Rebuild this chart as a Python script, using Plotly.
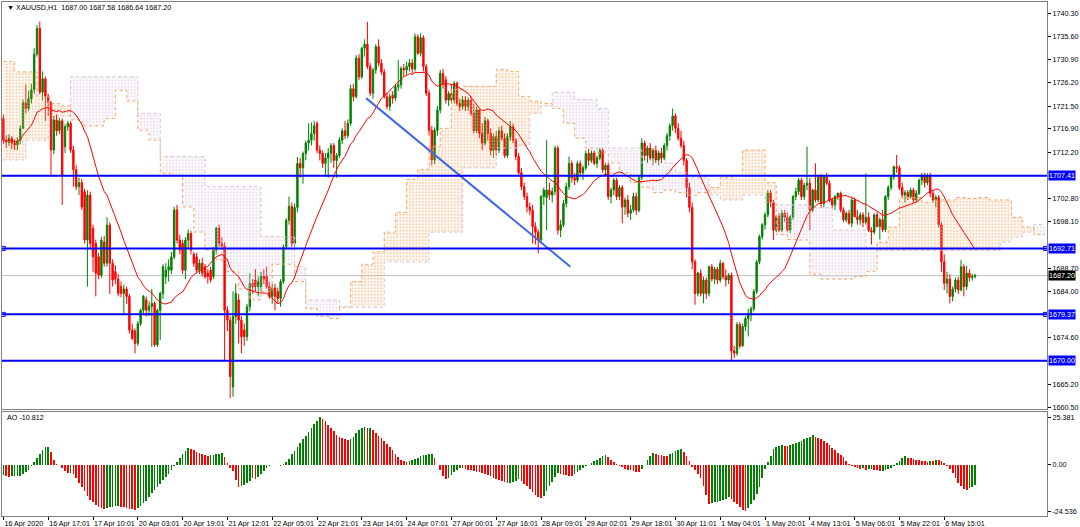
import numpy as np
import pandas as pd
import plotly.graph_objects as go

# ---------------- data ----------------
opens = [1719.0,1714.6,1714.2,1715.0,1714.0,1713.6,1714.5,1717.0,1722.2,1721.0,1723.0,1724.8,1732.0,1737.2,1724.3,1727.0,1723.5,1722.2,1712.6,1718.7,
1716.5,1718.5,1713.3,1717.3,1718.0,1712.6,1708.6,1705.2,1706.0,1704.2,1694.4,1703.5,1696.8,1693.7,1691.0,1687.3,1694.0,1689.7,1697.4,1689.7,
1688.0,1686.5,1685.0,1683.6,1684.5,1683.0,1676.2,1676.0,1673.5,1677.5,1680.2,1682.3,1680.2,1681.0,1681.6,1673.2,1680.2,1683.6,1687.0,1688.3,
1688.3,1691.0,1700.5,1694.4,1693.7,1688.3,1694.4,1695.7,1691.5,1691.0,1688.3,1689.7,1689.0,1687.7,1688.3,1687.0,1692.4,1696.8,1693.7,1693.2,
1680.2,1678.2,1664.7,1678.9,1682.3,1678.2,1676.2,1674.85,1680.9,1685.6,1686.3,1685.0,1685.0,1687.0,1687.0,1685.0,1683.0,1684.7,1684.0,1682.6,
1686.0,1693.0,1698.4,1701.2,1693.7,1701.0,1709.9,1709.0,1711.9,1714.0,1714.6,1715.9,1718.0,1712.6,1711.9,1709.9,1711.0,1712.0,1713.5,1710.5,
1711.5,1714.6,1716.5,1715.5,1718.0,1725.0,1723.4,1731.2,1727.4,1733.2,1734.0,1729.5,1724.1,1728.8,1733.5,1730.2,1728.4,1723.4,1721.4,1723.7,
1723.1,1725.4,1725.8,1729.1,1728.8,1729.5,1730.2,1729.0,1735.5,1732.2,1735.3,1729.5,1724.1,1716.6,1710.6,1716.6,1720.7,1728.1,1726.8,1722.7,
1724.0,1722.7,1726.1,1722.0,1721.4,1722.7,1721.4,1722.7,1720.0,1716.5,1720.7,1716.0,1714.0,1718.5,1716.0,1712.5,1715.3,1712.6,1716.5,1715.0,
1711.5,1715.3,1717.3,1714.6,1711.3,1708.0,1705.2,1703.2,1701.1,1700.4,1697.1,1696.0,1694.4,1703.2,1703.0,1704.5,1703.5,1704.2,1713.0,1696.4,
1697.5,1701.8,1705.2,1709.9,1707.0,1706.5,1709.9,1708.0,1709.0,1711.9,1710.5,1712.0,1709.9,1711.0,1712.6,1708.6,1709.5,1703.2,1704.5,1706.5,
1703.2,1705.0,1701.1,1702.5,1699.8,1700.5,1703.2,1700.4,1707.0,1714.0,1711.5,1713.0,1711.0,1712.5,1710.6,1712.0,1711.0,1713.5,1715.5,1717.5,
1719.5,1717.0,1715.0,1713.5,1710.5,1705.0,1701.0,1690.0,1683.6,1687.7,1683.6,1686.3,1683.6,1689.0,1686.5,1688.5,1686.3,1689.7,1687.0,1686.3,
1687.3,1672.0,1671.5,1677.3,1673.0,1676.9,1678.5,1679.5,1680.5,1684.0,1690.0,1695.1,1697.5,1699.5,1703.85,1702.0,1696.4,1699.1,1696.4,1699.8,
1699.0,1696.4,1699.1,1703.2,1704.2,1706.5,1703.2,1705.5,1705.9,1700.5,1704.5,1702.5,1707.2,1701.8,1707.2,1705.9,1702.5,1701.5,1703.2,1703.85,
1700.5,1698.5,1699.8,1697.8,1702.5,1699.1,1698.5,1699.5,1698.0,1699.0,1696.4,1696.0,1699.5,1697.1,1698.5,1696.5,1703.2,1705.0,1707.2,1709.2,
1709.0,1705.0,1703.5,1704.0,1703.2,1704.5,1702.5,1703.85,1706.5,1707.5,1706.0,1707.5,1703.85,1702.5,1703.0,1697.5,1690.0,1685.65,1686.5,1683.0,
1684.5,1686.3,1684.3,1689.0,1685.0,1687.7,1686.8,1687.00]

highs = [1719.8,1715.6,1715.8,1715.4,1714.8,1715.2,1717.6,1722.8,1725.8,1724.5,1726.0,1733.2,1737.9,1738.6,1728.5,1727.5,1724.0,1722.5,1719.5,1719.8,
1719.3,1719.0,1717.8,1718.5,1718.4,1713.5,1709.5,1707.0,1706.8,1704.8,1704.5,1704.2,1697.5,1694.5,1691.8,1695.0,1695.2,1699.0,1698.0,1690.5,
1689.3,1687.5,1686.0,1685.4,1685.0,1683.5,1677.5,1676.5,1678.0,1680.5,1683.3,1683.0,1682.0,1684.5,1682.0,1680.5,1684.0,1689.5,1689.7,1690.5,
1692.0,1701.1,1701.5,1695.5,1694.5,1695.0,1696.5,1696.2,1692.0,1691.8,1690.5,1690.8,1689.6,1688.5,1689.0,1693.0,1697.1,1697.5,1695.0,1694.0,
1681.0,1679.0,1684.0,1685.6,1683.5,1679.0,1677.5,1681.5,1687.7,1686.5,1688.5,1687.0,1688.0,1688.5,1689.0,1686.0,1685.5,1685.5,1684.8,1686.5,
1693.5,1698.8,1703.2,1702.0,1701.8,1711.2,1711.0,1712.3,1714.5,1718.0,1718.2,1718.5,1718.4,1713.5,1712.5,1712.0,1713.0,1714.0,1714.0,1712.0,
1715.2,1717.0,1718.5,1718.8,1725.8,1726.0,1731.8,1732.0,1733.5,1735.0,1738.5,1730.2,1729.2,1734.0,1735.0,1731.0,1729.0,1724.2,1724.0,1724.5,
1726.0,1730.8,1729.5,1730.0,1730.5,1731.0,1731.0,1736.2,1736.0,1736.2,1735.8,1730.0,1724.8,1717.5,1717.2,1721.5,1728.8,1729.0,1727.5,1724.5,
1726.0,1726.5,1726.5,1723.0,1723.5,1723.5,1723.2,1723.5,1722.0,1721.4,1721.0,1718.0,1719.3,1719.0,1717.0,1716.0,1716.5,1717.3,1717.5,1716.0,
1716.0,1718.5,1718.0,1715.0,1712.0,1709.0,1706.0,1704.0,1702.0,1701.5,1698.0,1696.5,1703.5,1705.0,1714.6,1706.0,1705.0,1713.5,1713.5,1698.5,
1702.5,1706.0,1711.3,1710.5,1708.0,1710.5,1710.5,1709.5,1712.5,1712.8,1712.5,1712.5,1711.5,1713.0,1713.0,1710.0,1710.0,1705.0,1707.0,1707.0,
1705.5,1705.5,1703.0,1703.5,1701.5,1704.0,1704.0,1707.5,1715.0,1714.5,1713.5,1714.0,1713.0,1713.5,1712.5,1713.0,1714.0,1716.0,1718.0,1721.0,
1720.0,1718.0,1716.5,1714.5,1711.0,1706.0,1702.0,1690.5,1688.0,1688.5,1687.0,1686.8,1689.2,1689.5,1689.0,1689.0,1690.4,1690.0,1688.5,1687.7,
1687.8,1673.0,1677.8,1677.8,1677.5,1679.0,1680.5,1681.0,1684.5,1690.4,1695.5,1697.8,1700.0,1704.5,1704.5,1702.5,1699.5,1699.8,1700.5,1700.5,
1700.0,1699.5,1703.5,1705.0,1707.0,1707.0,1706.0,1713.3,1707.0,1704.8,1709.9,1707.5,1707.8,1707.5,1708.0,1706.5,1703.0,1703.5,1704.0,1704.2,
1701.0,1700.2,1700.5,1703.0,1703.0,1700.5,1700.0,1700.0,1707.9,1700.0,1697.0,1699.8,1700.0,1699.0,1700.5,1703.5,1705.5,1707.5,1709.5,1711.6,
1709.5,1706.0,1704.5,1704.5,1705.0,1705.0,1704.5,1706.8,1708.0,1708.0,1707.9,1708.0,1704.5,1703.5,1703.5,1698.0,1691.5,1688.0,1687.5,1685.0,
1686.8,1687.0,1690.4,1689.5,1689.2,1688.5,1687.6,1687.58]

lows = [1713.8,1713.0,1713.4,1712.8,1712.6,1712.6,1713.8,1716.8,1720.0,1720.5,1722.0,1724.0,1731.5,1723.8,1722.6,1718.5,1719.5,1707.5,1711.8,1715.5,
1715.8,1701.5,1712.0,1716.5,1712.0,1705.2,1704.5,1703.5,1700.5,1693.7,1685.0,1692.5,1688.0,1683.0,1686.5,1686.8,1689.0,1689.0,1683.5,1685.0,
1685.5,1683.0,1682.8,1679.6,1681.5,1675.5,1674.2,1671.5,1673.0,1677.0,1679.5,1678.9,1679.0,1672.8,1672.8,1672.8,1674.2,1682.5,1685.5,1686.0,
1687.5,1690.5,1693.7,1691.5,1687.5,1686.5,1692.5,1691.5,1689.0,1687.8,1687.5,1687.0,1686.5,1685.6,1685.8,1686.5,1691.5,1693.0,1692.5,1670.1,
1676.0,1662.4,1662.7,1677.5,1673.5,1671.5,1673.0,1674.0,1680.0,1683.5,1684.0,1683.0,1684.0,1685.5,1684.5,1682.5,1681.5,1680.2,1681.5,1680.9,
1685.5,1692.5,1697.5,1693.0,1693.0,1700.0,1707.0,1705.8,1710.5,1712.5,1713.5,1714.5,1712.0,1710.5,1709.0,1707.5,1707.0,1710.0,1709.0,1707.0,
1711.0,1713.8,1714.8,1715.0,1717.5,1722.5,1723.0,1726.8,1727.0,1731.5,1729.0,1723.5,1723.0,1728.0,1729.5,1727.8,1723.0,1720.8,1720.5,1722.0,
1722.5,1724.5,1725.0,1727.5,1727.8,1728.5,1728.0,1728.5,1731.8,1731.5,1728.5,1723.5,1715.5,1709.5,1709.8,1715.5,1720.0,1725.0,1722.0,1721.5,
1722.0,1722.0,1721.5,1720.5,1720.8,1720.5,1720.5,1719.5,1716.0,1716.0,1715.0,1712.6,1713.5,1714.5,1711.5,1711.0,1711.5,1712.0,1714.5,1711.0,
1711.0,1714.5,1714.0,1710.5,1707.5,1704.5,1702.5,1700.0,1699.5,1693.7,1693.5,1691.7,1694.0,1701.5,1696.4,1702.5,1702.0,1703.5,1695.5,1695.0,
1697.0,1701.0,1704.5,1706.0,1705.5,1706.0,1707.5,1706.5,1708.5,1709.5,1710.0,1709.5,1709.0,1710.5,1708.0,1707.5,1702.5,1701.8,1703.5,1702.5,
1702.5,1697.8,1699.5,1699.0,1698.5,1700.0,1699.5,1700.0,1706.5,1710.5,1710.0,1710.5,1709.5,1710.0,1709.5,1710.0,1710.5,1712.5,1714.5,1716.5,
1716.0,1714.5,1713.0,1709.5,1703.0,1700.0,1688.5,1681.3,1683.0,1683.0,1681.6,1682.5,1683.0,1686.0,1685.5,1685.5,1685.8,1686.5,1685.0,1685.5,
1670.0,1670.5,1671.0,1672.5,1672.8,1676.0,1674.9,1678.0,1680.0,1683.5,1689.5,1694.5,1696.5,1699.0,1701.0,1694.4,1696.0,1696.0,1696.0,1698.0,
1696.0,1695.8,1698.5,1702.5,1703.5,1702.5,1702.5,1704.5,1696.4,1700.0,1702.0,1702.0,1701.0,1701.0,1705.5,1702.0,1700.8,1700.5,1702.5,1700.0,
1698.0,1698.0,1697.5,1697.0,1699.0,1697.5,1697.5,1697.0,1697.5,1696.0,1693.5,1695.5,1697.0,1694.5,1696.0,1696.0,1702.5,1704.5,1706.5,1708.0,
1704.5,1703.0,1702.0,1702.5,1702.8,1702.0,1702.0,1703.5,1705.5,1705.0,1705.5,1703.0,1702.0,1701.0,1697.0,1688.0,1684.3,1683.6,1681.6,1682.0,
1683.8,1683.5,1684.0,1683.0,1684.3,1686.0,1686.2,1686.64]

closes = [1714.6,1714.2,1715.0,1714.0,1713.6,1714.5,1717.0,1722.2,1721.0,1723.0,1724.8,1732.0,1737.2,1724.3,1727.0,1723.5,1722.2,1712.6,1718.7,1716.5,
1718.5,1707.5,1717.3,1718.0,1712.6,1708.6,1705.2,1706.0,1701.1,1694.4,1703.5,1693.7,1691.0,1687.7,1687.3,1694.4,1689.7,1697.4,1689.7,1686.3,
1686.5,1683.6,1683.6,1684.5,1683.0,1676.2,1674.5,1673.5,1677.5,1680.2,1683.0,1680.2,1681.0,1681.6,1673.2,1680.2,1683.6,1689.0,1688.3,1689.0,
1691.0,1700.5,1694.4,1692.4,1688.3,1694.4,1695.7,1692.4,1689.7,1688.3,1689.7,1687.7,1687.0,1687.0,1686.3,1692.4,1696.8,1693.7,1693.2,1680.2,
1678.2,1666.8,1678.9,1683.6,1678.2,1674.85,1674.85,1680.9,1685.6,1685.0,1685.0,1686.0,1687.0,1686.5,1685.0,1683.0,1684.7,1683.0,1682.6,1686.0,
1693.0,1698.4,1701.2,1693.7,1701.0,1709.9,1709.0,1711.9,1714.0,1714.6,1715.9,1717.5,1712.6,1711.9,1709.9,1711.0,1712.0,1713.5,1710.5,1711.5,
1714.6,1716.5,1715.5,1718.0,1725.0,1723.4,1731.2,1727.4,1733.2,1734.0,1729.5,1724.1,1728.8,1733.5,1730.2,1728.4,1723.4,1721.4,1723.4,1723.1,
1725.4,1725.8,1729.1,1728.8,1729.5,1730.2,1729.0,1735.5,1732.2,1735.3,1729.5,1724.1,1716.6,1710.6,1716.6,1720.7,1728.1,1726.0,1722.7,1724.0,
1722.7,1726.1,1722.0,1721.4,1722.7,1721.4,1722.7,1720.0,1716.5,1720.7,1716.0,1714.0,1718.5,1716.0,1712.5,1715.3,1712.6,1716.5,1715.0,1711.5,
1715.3,1717.3,1714.6,1711.3,1708.0,1705.2,1703.2,1701.1,1700.4,1697.1,1696.0,1694.4,1703.2,1704.5,1704.5,1703.5,1704.2,1713.0,1696.4,1697.5,
1701.8,1705.2,1709.9,1707.0,1706.5,1709.9,1708.0,1709.0,1711.9,1710.5,1712.0,1709.9,1711.0,1712.6,1708.6,1709.5,1703.2,1704.5,1706.5,1703.2,
1705.0,1701.1,1702.5,1699.8,1700.5,1703.2,1700.4,1707.0,1714.0,1711.5,1713.0,1711.0,1712.5,1710.6,1712.0,1711.0,1713.5,1715.5,1717.5,1719.5,
1717.0,1715.0,1713.5,1710.5,1705.0,1701.0,1690.0,1683.6,1687.7,1683.6,1686.3,1683.6,1689.0,1686.5,1688.5,1686.3,1689.7,1687.0,1686.3,1687.3,
1672.0,1671.5,1677.3,1673.0,1676.9,1678.5,1679.5,1680.5,1684.0,1690.0,1695.1,1697.5,1699.5,1703.85,1702.0,1696.4,1699.1,1696.4,1699.8,1699.0,
1696.4,1699.1,1703.2,1704.2,1706.5,1703.2,1705.5,1705.9,1700.5,1704.5,1702.5,1707.2,1701.8,1707.2,1705.9,1702.5,1701.5,1703.2,1703.85,1700.5,
1698.5,1699.8,1697.8,1702.5,1699.1,1698.5,1699.5,1698.0,1699.0,1696.4,1696.0,1699.5,1697.1,1698.5,1696.5,1703.2,1705.0,1707.2,1709.2,1709.0,
1705.0,1703.5,1704.0,1703.2,1704.5,1702.5,1703.85,1706.5,1707.5,1706.0,1707.5,1703.85,1702.5,1703.0,1697.5,1690.0,1685.65,1686.5,1683.0,1684.5,
1686.3,1684.3,1689.0,1685.0,1687.7,1686.8,1687.0,1687.20]

ao_values = [-5.6,-6.1,-6.4,-6.2,-6.0,-5.9,-5.7,-5.0,-4.0,-2.6,
-0.8,1.5,3.5,5.8,7.8,9.4,9.7,7.0,2.5,0.4,-0.3,
-1.6,-3.5,-4.4,-4.2,-4.9,-7.0,-9.5,-12.0,-14.0,-16.5,-18.5,-20.0,
-21.5,-22.5,-23.2,-23.6,-23.0,-22.6,-22.3,-22.0,-21.8,
-22.2,-22.6,-23.0,-23.4,-23.7,-23.9,-23.2,-22.0,-20.5,-19.0,-17.2,-15.2,
-13.5,-11.8,-10.0,-8.2,-6.5,-4.8,-3.0,-0.8,1.5,3.5,5.5,7.5,9.0,
8.5,7.6,6.8,6.2,5.6,5.2,4.8,5.0,5.2,5.6,6.0,6.3,
4.0,1.2,-1.8,-3.5,-8.0,-12.0,-11.5,-10.8,-9.8,-8.8,-7.2,-7.7,
-6.5,-5.0,-3.5,-1.8,-0.6,-0.3,0.1,-0.2,-0.4,0.5,1.5,3.0,
5.5,7.5,9.5,11.5,13.5,15.5,17.5,19.5,21.5,23.5,25.381,
24.2,23.0,21.2,19.6,17.8,16.0,15.0,14.2,13.5,13.0,
13.6,15.0,16.8,18.3,19.5,19.9,19.4,19.7,
18.6,17.0,15.4,14.0,12.6,11.0,9.5,7.8,6.0,4.2,2.8,2.0,1.6,
2.0,2.6,3.2,3.8,4.5,5.0,5.4,5.7,5.9,
3.5,0.0,-3.0,-6.0,-7.8,-7.0,-5.5,-4.0,-2.6,-1.5,
-1.8,-2.2,-2.6,-3.0,-3.3,-3.6,-4.0,-4.5,-5.0,-5.6,-6.2,-6.8,-7.4,-8.0,-8.6,-9.2,-9.8,
-9.4,-9.0,-8.4,-7.8,-8.5,-10.0,-11.5,-13.0,-14.5,-15.8,-17.0,-17.8,
-16.5,-14.0,-11.5,-9.0,-6.5,-4.5,-4.8,-5.2,-5.6,-5.8,-6.0,
-5.0,-3.8,-2.6,-1.6,-0.8,-0.2,0.8,1.8,2.8,3.8,4.5,5.0,
4.0,2.8,1.5,0.4,-0.6,-1.4,-2.0,-2.6,-3.0,-3.4,-3.7,-3.9,
-2.0,-0.3,2.5,4.8,6.2,5.8,5.4,5.0,4.7,4.5,
5.5,6.4,7.2,7.8,8.3,7.0,4.5,1.8,
-1.0,-3.0,-5.0,-7.2,-11.5,-16.0,-20.7,
-20.4,-20.0,-19.5,-19.0,-18.5,-18.0,-17.3,
-18.0,-19.5,-21.0,-22.5,-23.8,-24.536,
-23.0,-21.0,-18.5,-15.5,-12.0,-7.0,-2.0,1.5,4.5,
8.5,9.5,10.0,10.3,10.0,9.8,
10.4,10.9,11.5,12.1,12.8,13.5,14.3,15.0,15.6,
14.8,14.2,13.5,12.6,11.5,10.3,9.0,7.8,6.5,5.3,4.0,
2.0,0.5,-0.5,-1.0,
-1.8,-2.2,-1.8,-2.5,-2.3,-2.0,-2.5,-3.0,-3.5,-3.2,-3.0,-2.4,-1.5,
-0.5,0.8,2.0,3.5,4.5,3.8,3.4,
3.0,2.7,2.4,2.0,1.8,1.6,
2.2,2.0,2.6,2.3,2.0,
0.8,-0.5,-2.0,-4.5,-7.0,-9.5,-11.5,-12.8,-13.2,
-12.4,-11.6,-10.812]

# Ichimoku cloud, read every 4 bars (bar index 0, 4, ... 372)
cloud_bars = list(range(0, 373, 4))
span_a = [1730.5,1728.4,1728.4,1723.5,1722.0,1721.5,1718.7,1717.5,1717.5,1719.0,
1724.7,1722.5,1716.6,1714.6,1707.9,1707.5,1701.1,1696.0,1692.4,1690.4,
1688.0,1684.5,1682.3,1684.0,1689.5,1689.5,1686.0,1680.5,1679.0,1678.5,
1680.8,1686.0,1689.5,1692.0,1696.0,1700.0,1706.7,1708.7,1713.4,1717.0,
1724.9,1725.5,1725.5,1725.5,1728.9,1728.5,1723.4,1722.5,1722.0,1721.0,
1718.0,1715.0,1713.0,1712.0,1710.0,1708.0,1706.0,1705.0,1704.0,1704.5,
1704.0,1703.5,1704.0,1705.0,1707.0,1707.5,1712.6,1712.6,1706.0,1695.5,
1694.5,1694.4,1687.5,1686.5,1686.5,1686.5,1687.0,1688.0,1694.0,1697.0,
1703.0,1703.0,1702.0,1702.5,1702.5,1703.0,1702.8,1703.0,1702.5,1702.5,
1699.0,1697.0,1695.5,1695.5]
span_b = [1710.6,1710.6,1714.6,1714.6,1719.0,1719.5,1727.4,1727.4,1727.4,1727.4,
1727.4,1727.4,1720.0,1720.0,1711.3,1711.3,1711.3,1711.3,1705.2,1705.2,
1705.2,1705.2,1705.2,1695.1,1695.1,1695.1,1689.0,1682.3,1682.3,1682.3,
1681.0,1680.8,1680.8,1680.8,1690.0,1690.0,1690.0,1690.0,1696.0,1696.0,
1696.0,1709.0,1709.0,1709.0,1713.0,1713.0,1713.5,1720.0,1721.5,1724.3,
1724.3,1722.8,1722.8,1721.0,1713.0,1713.0,1713.0,1710.0,1710.0,1710.0,
1708.0,1707.0,1707.0,1703.5,1702.5,1702.5,1703.5,1703.5,1702.0,1701.5,
1701.5,1701.5,1701.0,1701.0,1696.4,1696.4,1696.4,1693.0,1692.3,1692.3,
1692.3,1692.3,1692.3,1692.3,1692.3,1692.3,1692.3,1692.3,1692.3,1694.0,
1695.0,1696.0,1697.5,1697.5]

levels = [1707.41, 1692.71, 1679.37, 1670.00]
marked_levels = [1692.71, 1679.37]
last_price = 1687.20
trend_bars = [129.5, 202.5]
trend_prices = [1723.1, 1689.0]

date_labels = ["16 Apr 2020", "16 Apr 17:01", "17 Apr 10:01", "20 Apr 03:01", "20 Apr 19:01",
               "21 Apr 12:01", "22 Apr 05:01", "22 Apr 21:01", "23 Apr 14:01", "24 Apr 07:01",
               "27 Apr 00:01", "27 Apr 16:01", "28 Apr 09:01", "29 Apr 02:01", "29 Apr 18:01",
               "30 Apr 11:01", "1 May 04:01", "1 May 20:01", "4 May 13:01", "5 May 06:01",
               "5 May 22:01", "6 May 15:01"]
bars_per_label = 16
price_ticks = [1740.30, 1735.60, 1730.90, 1726.20, 1721.50, 1716.90, 1712.20, 1702.80,
               1698.10, 1688.70, 1684.00, 1674.60, 1665.20, 1660.50]
ao_ticks = [25.381, 0.0, -24.536]
ao_tick_text = ["25.381", "0.00", "-24.536"]
ma_period = 20

# ---------------- layout geometry (pixels) ----------------
W, H = 1080, 527
PX_LEFT, PX_RIGHT = 2, 1047
MAIN_TOP, MAIN_BOT = 2, 409
AO_TOP, AO_BOT = 412, 516
XR = [-0.5, 372.7]
YR = [1660.23, 1742.54]
AOR = [-27.19, 28.04]
FONT = "Liberation Sans"
FS = 7.2

def yd(top, bot):
    return [(H - bot) / H, (H - top) / H]

n = len(closes)
bars = list(range(n))
ma = pd.Series(closes).rolling(ma_period, min_periods=1).mean()
ao_colors = ["#008000" if i == 0 or ao_values[i] > ao_values[i - 1] else "#FF0000"
             for i in range(len(ao_values))]
a = np.array(span_a)
b = np.array(span_b)
top = np.maximum(a, b)

fig = go.Figure()

# cloud: orange where A above B, thistle where B above A
dot_o = dict(shape=".", fgcolor="#F4A460", bgcolor="rgba(255,255,255,0)", size=3.2, solidity=0.4)
dot_p = dict(shape=".", fgcolor="#D8BFD8", bgcolor="rgba(255,255,255,0)", size=3.2, solidity=0.4)
fig.add_trace(go.Scatter(x=cloud_bars, y=b, mode="lines", line=dict(width=0, shape="hv"), hoverinfo="skip"))
fig.add_trace(go.Scatter(x=cloud_bars, y=top, mode="lines", line=dict(width=0, shape="hv"),
                         fill="tonexty", fillcolor="rgba(0,0,0,0)", fillpattern=dot_o, hoverinfo="skip"))
fig.add_trace(go.Scatter(x=cloud_bars, y=a, mode="lines", line=dict(width=0, shape="hv"), hoverinfo="skip"))
fig.add_trace(go.Scatter(x=cloud_bars, y=top, mode="lines", line=dict(width=0, shape="hv"),
                         fill="tonexty", fillcolor="rgba(0,0,0,0)", fillpattern=dot_p, hoverinfo="skip"))
fig.add_trace(go.Scatter(x=cloud_bars, y=b, mode="lines",
                         line=dict(color="#D8BFD8", width=1, dash="dot", shape="hv"), hoverinfo="skip"))
fig.add_trace(go.Scatter(x=cloud_bars, y=a, mode="lines",
                         line=dict(color="#F4A460", width=1, dash="dot", shape="hv"), hoverinfo="skip"))

# candles
fig.add_trace(go.Candlestick(
    x=bars, open=opens, high=highs, low=lows, close=closes,
    increasing=dict(line=dict(color="#008000", width=1), fillcolor="#008000"),
    decreasing=dict(line=dict(color="#FF0000", width=1), fillcolor="#FF0000"),
    whiskerwidth=0, hoverinfo="skip"))

# moving average
fig.add_trace(go.Scatter(x=bars, y=ma, mode="lines", line=dict(color="#FF0000", width=1), hoverinfo="skip"))

# trend line
fig.add_trace(go.Scatter(x=trend_bars, y=trend_prices, mode="lines",
                         line=dict(color="#4169E1", width=2), hoverinfo="skip"))

# line-end markers on selected levels
for lv in marked_levels:
    fig.add_trace(go.Scatter(x=[XR[0] + 0.45, XR[1] - 0.55], y=[lv, lv], mode="markers",
                             marker=dict(symbol="square-open", size=4, color="#0000FF", line=dict(width=1)),
                             hoverinfo="skip"))

# AO histogram
fig.add_trace(go.Bar(x=list(range(len(ao_values))), y=ao_values, marker_color=ao_colors,
                     marker_line_width=0, width=0.62, xaxis="x2", yaxis="y2", hoverinfo="skip"))

# horizontal lines
fig.add_shape(type="line", xref="x domain", x0=0, x1=1, yref="y", y0=last_price, y1=last_price,
              line=dict(color="#C0C0C0", width=1), layer="below")
for lv in levels:
    fig.add_shape(type="line", xref="x domain", x0=0, x1=1, yref="y", y0=lv, y1=lv,
                  line=dict(color="#0000FF", width=2))

# price labels on the right axis
for lv in levels:
    fig.add_annotation(x=(PX_RIGHT + 1) / W, xref="paper", xanchor="left", y=lv, yref="y",
                       text=f"{lv:.2f}", showarrow=False, bgcolor="#0000FF", borderpad=0,
                       font=dict(family=FONT, size=FS, color="white"))
fig.add_annotation(x=(PX_RIGHT + 1) / W, xref="paper", xanchor="left", y=last_price, yref="y",
                   text=f"{last_price:.2f}", showarrow=False, bgcolor="#000000", borderpad=0,
                   font=dict(family=FONT, size=FS, color="white"))

# headers
fig.add_annotation(x=5 / W, xref="paper", xanchor="left", y=(H - 8) / H, yref="paper", yanchor="middle",
                   text=f"▼ XAUUSD,H1  {opens[-1]:.2f} {highs[-1]:.2f} {lows[-1]:.2f} {closes[-1]:.2f}",
                   showarrow=False, font=dict(family=FONT, size=FS, color="black"))
fig.add_annotation(x=5 / W, xref="paper", xanchor="left", y=(H - 417) / H, yref="paper", yanchor="middle",
                   text=f"AO {ao_values[-1]:.3f}", showarrow=False,
                   font=dict(family=FONT, size=FS, color="black"))

axis_common = dict(showgrid=False, zeroline=False, showline=True, mirror=True,
                   linecolor="#808080", linewidth=1)
fig.update_layout(
    width=W, height=H, margin=dict(l=0, r=0, t=0, b=0, autoexpand=False),
    paper_bgcolor="white", plot_bgcolor="white", showlegend=False, bargap=0,
    font=dict(family=FONT, size=FS, color="black"),
    xaxis=dict(domain=[PX_LEFT / W, PX_RIGHT / W], range=XR, anchor="y",
               showticklabels=False, ticks="", rangeslider=dict(visible=False), **axis_common),
    yaxis=dict(domain=yd(MAIN_TOP, MAIN_BOT), range=YR, side="right", anchor="x",
               tickvals=price_ticks, ticktext=[f"{v:.2f}" for v in price_ticks],
               ticks="outside", ticklen=3, tickcolor="#000000", automargin=False,
               tickfont=dict(family=FONT, size=FS, color="black"), **axis_common),
    xaxis2=dict(domain=[PX_LEFT / W, PX_RIGHT / W], range=XR, anchor="y2", matches="x",
                tickvals=[i * bars_per_label for i in range(len(date_labels))], ticktext=date_labels,
                ticks="outside", ticklen=3, tickcolor="#000000", ticklabelposition="outside right",
                tickangle=0, automargin=False,
                tickfont=dict(family=FONT, size=FS, color="black"), **axis_common),
    yaxis2=dict(domain=yd(AO_TOP, AO_BOT), range=AOR, side="right", anchor="x2",
                tickvals=ao_ticks, ticktext=ao_tick_text, ticks="outside", ticklen=3, tickcolor="#000000",
                automargin=False,
                tickfont=dict(family=FONT, size=FS, color="black"), **axis_common),
)

fig.write_html("out.html", config={"staticPlot": True},
               post_script="document.body.style.margin='0';document.body.style.overflow='hidden';")
